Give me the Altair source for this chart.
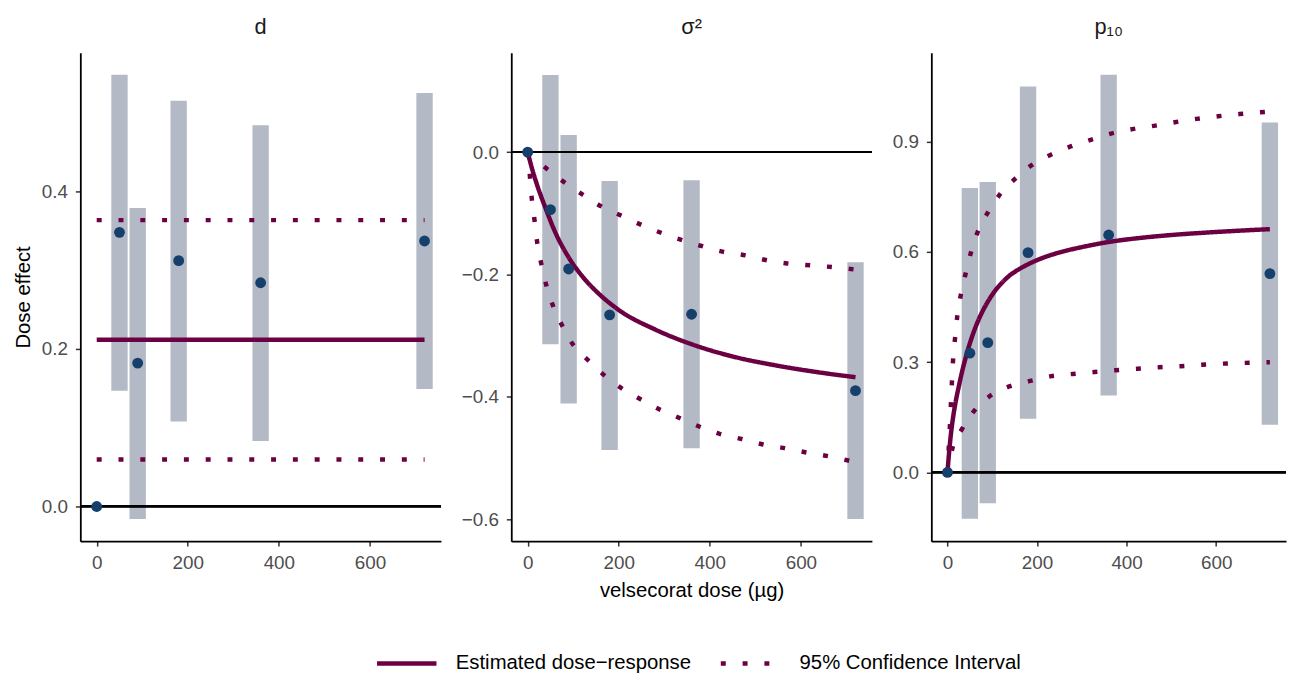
import altair as alt
import pandas as pd

FONT = "Liberation Sans"
WINE = "#6B0043"
BAR = "#B3B9C5"
PT = "#15406B"

EST = "Estimated dose\u2212response"
CI = "95% Confidence Interval"

# ---- observed doses ----
doses = [0, 50, 90, 180, 360, 720]
bar_doses = [50, 90, 180, 360, 720]

# ---- panel d ----
d_point = [0.0, 0.348, 0.182, 0.312, 0.284, 0.337]
d_lo = [0.147, -0.016, 0.108, 0.083, 0.149]
d_hi = [0.548, 0.379, 0.515, 0.484, 0.525]
d_est_dose = [0, 720]
d_est = [0.2117, 0.2117]
d_cil_dose = [0, 720]
d_cil = [0.0595, 0.0595]
d_ciu_dose = [0, 720]
d_ciu = [0.3635, 0.3635]

# ---- panel sigma^2 ----
s_point = [0.0, -0.094, -0.191, -0.266, -0.265, -0.390]
s_lo = [-0.314, -0.411, -0.487, -0.484, -0.600]
s_hi = [0.126, 0.028, -0.047, -0.046, -0.180]
s_est_dose = [0, 10, 20, 40, 60, 90, 120, 160, 200, 280, 360, 450, 540, 630, 720]
s_est = [0.0, -0.028, -0.052, -0.093, -0.130, -0.172, -0.203, -0.234, -0.258,
         -0.290, -0.314, -0.334, -0.348, -0.359, -0.368]
s_ciu_dose = [0, 20, 40, 80, 120, 160, 200, 250, 290, 340, 380, 430, 480, 520,
              570, 620, 670, 720]
s_ciu = [0.0, -0.013, -0.026, -0.049, -0.069, -0.088, -0.102, -0.119, -0.131,
         -0.144, -0.153, -0.163, -0.169, -0.176, -0.182, -0.185, -0.188, -0.192]
s_cil_dose = [0, 5, 9, 15, 21, 30, 41, 56, 76, 100, 134, 170, 208, 248, 291,
              335, 378, 423, 470, 517, 565, 612, 660, 720]
s_cil = [0.0, -0.040, -0.076, -0.111, -0.148, -0.183, -0.218, -0.252, -0.284,
         -0.315, -0.341, -0.366, -0.387, -0.404, -0.421, -0.435, -0.449, -0.461,
         -0.469, -0.478, -0.484, -0.491, -0.497, -0.507]

# ---- panel p10 ----
p_point = [0.0, 0.3245, 0.353, 0.598, 0.646, 0.541]
p_lo = [-0.126, -0.084, 0.146, 0.209, 0.130]
p_hi = [0.774, 0.790, 1.050, 1.082, 0.952]
p_est_dose = [0, 3, 7, 12, 18, 25, 33, 42, 51, 62, 73, 87, 102, 120, 138, 160,
              181, 220, 261, 300, 360, 430, 500, 570, 640, 720]
p_est = [0.0, 0.045, 0.096, 0.145, 0.190, 0.232, 0.276, 0.318, 0.355, 0.393,
         0.425, 0.458, 0.487, 0.514, 0.535, 0.553, 0.567, 0.587, 0.602, 0.613,
         0.627, 0.638, 0.646, 0.652, 0.657, 0.662]
p_ciu_dose = [0, 3, 6, 9, 12.5, 17, 22, 30, 41, 53, 68, 91, 118, 152, 188, 230,
              275, 320, 365, 413, 461, 508, 556, 604, 652, 700, 720]
p_ciu = [0.0, 0.07, 0.14, 0.22, 0.306, 0.366, 0.426, 0.484, 0.543, 0.601, 0.656,
         0.709, 0.758, 0.800, 0.836, 0.864, 0.887, 0.905, 0.922, 0.934, 0.943,
         0.953, 0.962, 0.969, 0.975, 0.980, 0.982]
p_cil_dose = [0, 11, 33, 60, 94, 138, 185, 232, 280, 328, 375, 424, 472, 520,
              568, 616, 665, 720]
p_cil = [0.0, 0.065, 0.119, 0.168, 0.207, 0.234, 0.249, 0.262, 0.268, 0.273,
         0.278, 0.282, 0.286, 0.289, 0.293, 0.296, 0.298, 0.300]

X_DOMAIN = [-36, 756]
H = 493


def lines_df(est_d, est, lo_d, lo, hi_d, hi):
    rows = []
    for x, v in zip(est_d, est):
        rows.append({"dose": x, "value": v, "series": "est", "type": EST})
    for x, v in zip(lo_d, lo):
        rows.append({"dose": x, "value": v, "series": "lo", "type": CI})
    for x, v in zip(hi_d, hi):
        rows.append({"dose": x, "value": v, "series": "hi", "type": CI})
    return pd.DataFrame(rows)


def panel(title, points, lo, hi, lines, ydomain, yvalues, width, xtitle, ytitle):
    pts = pd.DataFrame({"dose": doses, "value": points})
    bars = pd.DataFrame({"dose": bar_doses, "lo": lo, "hi": hi})
    x_enc = alt.X("dose:Q", scale=alt.Scale(domain=X_DOMAIN, nice=False, zero=False),
                  axis=alt.Axis(values=[0, 200, 400, 600], format="d",
                                title=xtitle if xtitle else None))
    y_scale = alt.Scale(domain=ydomain, nice=False, zero=False)
    y_axis = alt.Axis(values=yvalues, format=".1f", title=ytitle if ytitle else None)

    bar_layer = alt.Chart(bars).mark_rule(color=BAR, strokeWidth=16.5, strokeCap="butt").encode(
        x=x_enc, y=alt.Y("lo:Q", scale=y_scale, axis=y_axis), y2="hi:Q")
    zero = alt.Chart(pts).mark_rule(color="black", strokeWidth=1.8).encode(y=alt.datum(0))
    line_layer = alt.Chart(lines).mark_line(color=WINE, strokeWidth=4.5,
                                            interpolate="monotone", strokeCap="butt").encode(
        x="dose:Q", y="value:Q", detail="series:N",
        strokeDash=alt.StrokeDash(
            "type:N",
            scale=alt.Scale(domain=[EST, CI], range=[[1, 0], [5, 17]]),
            legend=alt.Legend(title=None, orient="none", direction="horizontal",
                              legendX=297, legendY=584, symbolType="stroke",
                              symbolSize=3600, symbolStrokeWidth=4.5,
                              symbolStrokeColor=WINE, labelFontSize=20.5,
                              labelFont=FONT, labelColor="black", labelOffset=17,
                              columnPadding=20, symbolOffset=0,
                              labelLimit=400)))
    pt_layer = alt.Chart(pts).mark_circle(color=PT, size=120, opacity=1).encode(
        x="dose:Q", y="value:Q")
    return alt.layer(bar_layer, zero, line_layer, pt_layer).properties(
        width=width, height=H,
        title=alt.TitleParams(title, frame="group", anchor="middle"))


p1 = panel("d", d_point, d_lo, d_hi,
           lines_df(d_est_dose, d_est, d_cil_dose, d_cil, d_ciu_dose, d_ciu),
           [-0.044, 0.576], [0.0, 0.2, 0.4], 364, None, "Dose effect")
p2 = panel("\u03c3\u00b2", s_point, s_lo, s_hi,
           lines_df(s_est_dose, s_est, s_cil_dose, s_cil, s_ciu_dose, s_ciu),
           [-0.636, 0.1626], [-0.6, -0.4, -0.2, 0.0], 364, "velsecorat dose (\u00b5g)", None)
p3 = panel("p\u2081\u2080", p_point, p_lo, p_hi,
           lines_df(p_est_dose, p_est, p_cil_dose, p_cil, p_ciu_dose, p_ciu),
           [-0.187, 1.142], [0.0, 0.3, 0.6, 0.9], 358, None, None)

chart = alt.hconcat(p1, p2, p3, spacing=19).resolve_scale(
    strokeDash="shared").resolve_legend(strokeDash="shared").properties(
    padding={"left": 5, "top": 5, "right": 0, "bottom": 0}
).configure_view(stroke=None).configure_axis(
    grid=False, labelFont=FONT, labelFontSize=19, labelColor="#4D4D4D",
    tickColor="#333333", tickSize=5, tickWidth=1.5, labelPadding=8,
    domainColor="black", domainWidth=1.8,
    titleFont=FONT, titleFontSize=20.5, titleFontWeight="normal", titleColor="black",
    titlePadding=8
).configure_title(
    font=FONT, fontSize=22, fontWeight="normal", color="#1A1A1A", offset=14
)

chart.save("out.html", embed_options={"renderer": "svg", "actions": False})
